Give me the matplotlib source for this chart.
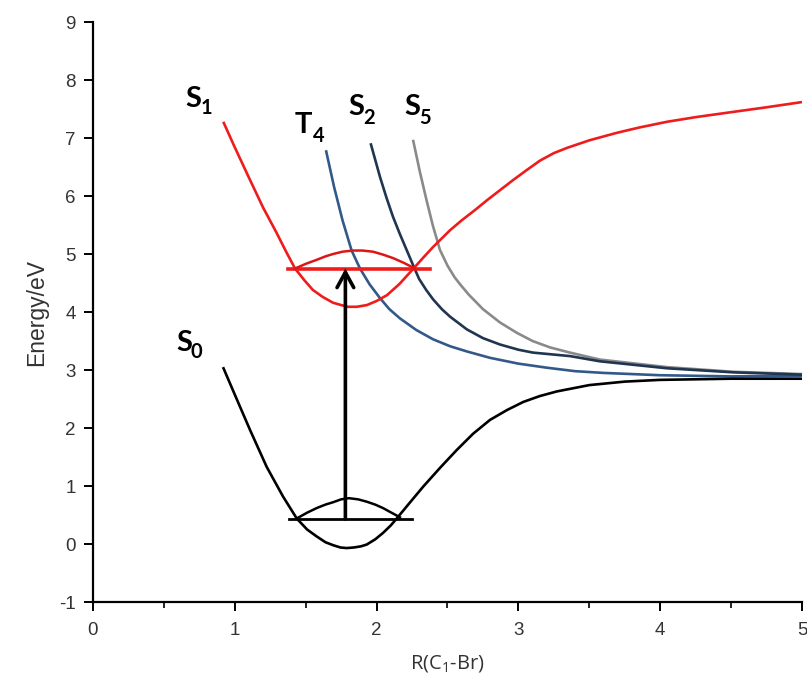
import matplotlib
matplotlib.use("Agg")
import matplotlib.pyplot as plt
from matplotlib.ticker import MultipleLocator

plt.rcParams["font.family"] = ["Liberation Sans", "DejaVu Sans"]
plt.rcParams["axes.unicode_minus"] = False
plt.rcParams["mathtext.fontset"] = "custom"
plt.rcParams["mathtext.rm"] = "Open Sans"
plt.rcParams["mathtext.it"] = "Open Sans"

# ---- data ----
s0_x = [0.917, 1.010, 1.107, 1.225, 1.340, 1.437, 1.510, 1.578, 1.640, 1.693, 1.745, 1.789,
        1.840, 1.890, 1.930, 1.990, 2.045, 2.100, 2.142, 2.230, 2.329, 2.450, 2.565, 2.680,
        2.800, 2.920, 3.035, 3.150, 3.270, 3.500, 3.750, 4.000, 4.500, 5.000]
s0_y = [3.05, 2.52, 1.97, 1.33, 0.82, 0.44, 0.25, 0.13, 0.03, -0.02, -0.06, -0.07,
        -0.06, -0.04, -0.01, 0.08, 0.19, 0.32, 0.44, 0.70, 0.99, 1.32, 1.62, 1.90,
        2.14, 2.31, 2.45, 2.55, 2.63, 2.74, 2.80, 2.83, 2.85, 2.85]

s1_x = [0.919, 1.000, 1.107, 1.200, 1.296, 1.360, 1.425, 1.490, 1.551, 1.620, 1.693, 1.750,
        1.798, 1.860, 1.932, 2.000, 2.073, 2.160, 2.257, 2.330, 2.398, 2.460, 2.518, 2.600,
        2.700, 2.780, 2.870, 2.960, 3.060, 3.152, 3.250, 3.343, 3.500, 3.695, 3.850, 4.048,
        4.250, 4.513, 4.750, 5.000]
s1_y = [7.28, 6.84, 6.28, 5.80, 5.36, 5.05, 4.75, 4.55, 4.38, 4.26, 4.16, 4.12,
        4.09, 4.09, 4.12, 4.19, 4.29, 4.48, 4.74, 4.94, 5.12, 5.27, 5.41, 5.58,
        5.77, 5.93, 6.10, 6.27, 6.45, 6.61, 6.74, 6.83, 6.96, 7.09, 7.18, 7.28,
        7.36, 7.45, 7.53, 7.62]

t4_x = [1.643, 1.700, 1.760, 1.824, 1.883, 1.950, 2.024, 2.090, 2.165, 2.280, 2.398, 2.518,
        2.637, 2.800, 3.000, 3.200, 3.400, 3.600, 4.000, 4.500, 5.000]
t4_y = [6.79, 6.16, 5.58, 5.06, 4.75, 4.48, 4.24, 4.05, 3.89, 3.69, 3.53, 3.41,
        3.32, 3.21, 3.11, 3.04, 2.98, 2.95, 2.91, 2.89, 2.90]

s2_x = [1.958, 2.024, 2.070, 2.116, 2.165, 2.212, 2.257, 2.300, 2.350, 2.398, 2.460, 2.518,
        2.637, 2.750, 2.870, 3.000, 3.103, 3.364, 3.575, 4.048, 4.513, 5.000]
s2_y = [6.91, 6.33, 5.97, 5.64, 5.34, 5.07, 4.81, 4.57, 4.38, 4.22, 4.05, 3.92,
        3.70, 3.55, 3.44, 3.35, 3.30, 3.24, 3.15, 3.03, 2.96, 2.92]

s5_x = [2.257, 2.306, 2.355, 2.398, 2.447, 2.500, 2.550, 2.588, 2.650, 2.750, 2.870, 2.990,
        3.100, 3.223, 3.364, 3.575, 4.048, 4.513, 5.000]
s5_y = [6.97, 6.41, 5.90, 5.48, 5.07, 4.80, 4.60, 4.48, 4.30, 4.05, 3.82, 3.64,
        3.50, 3.39, 3.30, 3.18, 3.05, 2.97, 2.93]

# vibrational levels and wavefunctions
v0_level = 0.43
v0_range = [1.38, 2.25]
v0_wave_x = [1.437, 1.510, 1.578, 1.640, 1.693, 1.750, 1.805, 1.870, 1.930, 1.990, 2.045, 2.105, 2.165]
v0_wave_y = [0.44, 0.54, 0.62, 0.68, 0.72, 0.77, 0.79, 0.77, 0.73, 0.68, 0.62, 0.54, 0.46]

v1_level = 4.75
v1_range = [1.375, 2.377]
v1_wave_x = [1.425, 1.500, 1.578, 1.640, 1.693, 1.760, 1.834, 1.900, 1.975, 2.045, 2.116, 2.190, 2.271]
v1_wave_y = [4.75, 4.83, 4.90, 4.96, 5.00, 5.04, 5.06, 5.06, 5.04, 4.99, 4.93, 4.85, 4.75]

arrow_x = 1.78

labels = [("S", "1", 0.655, 7.53), ("S", "0", 0.585, 3.33), ("T", "4", 1.42, 7.09),
          ("S", "2", 1.80, 7.40), ("S", "5", 2.195, 7.40)]
sub_drop = [0.11, 0.12, 0.16, 0.15, 0.15]

xticks = [0, 1, 2, 3, 4, 5]
yticks = [-1, 0, 1, 2, 3, 4, 5, 6, 7, 8, 9]

RED = "#ee1c1c"
T4C = "#33598a"
S2C = "#1f3550"
S5C = "#8a8a8a"

fig = plt.figure(figsize=(8.07, 6.82), dpi=100)
ax = fig.add_axes([0.1152, 0.1173, 0.8786, 0.8504])

lw = 1.9
kw = dict(lw=lw, solid_joinstyle="round", solid_capstyle="butt")
ax.plot(s0_x, s0_y, color="black", zorder=3, **kw)
ax.plot(s1_x, s1_y, color=RED, zorder=3, **kw)
ax.plot(t4_x, t4_y, color=T4C, zorder=2, **kw)
ax.plot(s2_x, s2_y, color=S2C, zorder=2, **kw)
ax.plot(s5_x, s5_y, color=S5C, zorder=1, **kw)

ax.plot(v0_range, [v0_level, v0_level], color="black", lw=2.0, zorder=4)
ax.plot(v0_wave_x, v0_wave_y, color="black", lw=1.8, zorder=4, solid_joinstyle="round")
ax.plot(v1_range, [v1_level, v1_level], color=RED, lw=2.6, zorder=4)
ax.plot(v1_wave_x, v1_wave_y, color="#dd1515", lw=1.8, zorder=4, solid_joinstyle="round")

ax.annotate("", xy=(arrow_x, v1_level), xytext=(arrow_x, v0_level),
            arrowprops=dict(arrowstyle="->,head_length=1.1,head_width=0.6",
                            color="black", lw=2.6, shrinkA=0, shrinkB=0,
                            joinstyle="miter"),
            zorder=5)

lab_font = "Lato"
fig.canvas.draw()
inv = ax.transData.inverted()
for (main, sub, x, y), d in zip(labels, sub_drop):
    t = ax.text(x, y, main, fontsize=21, fontweight="bold", family=lab_font,
                ha="left", va="baseline", zorder=6)
    bb = t.get_window_extent(renderer=fig.canvas.get_renderer())
    xr, _ = inv.transform((bb.x1 + (3 if main == "T" else 0.5), bb.y0))
    ax.text(xr, y - d, sub, fontsize=14.5, fontweight="bold", family=lab_font,
            ha="left", va="baseline", zorder=6)

ax.set_xlim(0, 5)
ax.set_ylim(-1, 9)
ax.set_xticks(xticks)
ax.set_yticks(yticks)
ax.xaxis.set_minor_locator(MultipleLocator(0.5))
for s in ["top", "right"]:
    ax.spines[s].set_visible(False)
for s in ["left", "bottom"]:
    ax.spines[s].set_linewidth(1.6)
ax.tick_params(axis="both", which="major", direction="out", length=6.5, width=1.4,
               labelsize=13.5, labelcolor="#333333")
ax.tick_params(axis="x", which="major", pad=8)
ax.tick_params(axis="y", which="major", pad=6)
ax.tick_params(axis="x", which="minor", direction="out", length=4, width=1.2)

ax.set_ylabel("Energy/eV", fontsize=16.5, color="#333333", labelpad=8)
ax.set_xlabel(r"R(C$_1$-Br)", fontsize=14.5, family="Open Sans", color="#333333", labelpad=10)

fig.savefig("out.png", dpi=100)
